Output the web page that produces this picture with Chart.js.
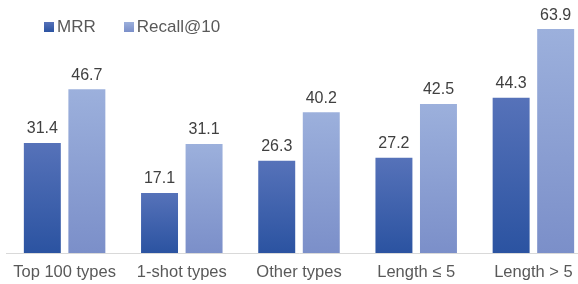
<!DOCTYPE html>
<html>
<head>
<meta charset="utf-8">
<script src="https://cdn.jsdelivr.net/npm/chart.js@4"></script>
<style>
  html, body { margin: 0; padding: 0; background: #fff; overflow: hidden; }
  #wrap { position: relative; width: 600px; height: 284px; }
  .legend { position: absolute; top: 17px; left: 44px; font: 17px "Liberation Sans", Arial, sans-serif; color: #595959; display: flex; }
  .legend span { display: flex; align-items: center; margin-right: 28px; }
  .legend i { display: inline-block; width: 10px; height: 10px; margin-right: 3px; }
</style>
</head>
<body>
<div id="wrap">
  <canvas id="chart" width="600" height="284"></canvas>
  <div class="legend">
    <span><i style="background:linear-gradient(#5672b9,#2b53a1)"></i>MRR</span>
    <span><i style="background:linear-gradient(#9cb0dc,#7b8fc9)"></i>Recall@10</span>
  </div>
</div>
<script>
const categories = ['Top 100 types', '1-shot types', 'Other types', 'Length \u2264 5', 'Length > 5'];
const mrr = [31.4, 17.1, 26.3, 27.2, 44.3];
const recall10 = [46.7, 31.1, 40.2, 42.5, 63.9];

const FONT = '"Liberation Sans", Arial, sans-serif';

// dégradé vertical propre à chaque barre
function barGradient(top, bottom) {
  return ctx => {
    const chart = ctx.chart;
    const y = chart.scales.y;
    if (!y || ctx.raw === undefined) return bottom;
    const y0 = y.getPixelForValue(ctx.raw);
    const y1 = y.getPixelForValue(0);
    if (!isFinite(y0) || !isFinite(y1) || y0 === y1) return bottom;
    const g = chart.ctx.createLinearGradient(0, y0, 0, y1);
    g.addColorStop(0, top);
    g.addColorStop(1, bottom);
    return g;
  };
}

const valueLabels = {
  id: 'valueLabels',
  afterDatasetsDraw(chart) {
    const c = chart.ctx;
    c.save();
    c.font = '16px ' + FONT;
    c.fillStyle = '#404040';
    c.textAlign = 'center';
    c.textBaseline = 'bottom';
    chart.data.datasets.forEach((ds, i) => {
      chart.getDatasetMeta(i).data.forEach((bar, j) => {
        c.fillText(ds.data[j].toFixed(1), bar.x, bar.y - 6);
      });
    });
    c.restore();
  }
};

new Chart(document.getElementById('chart'), {
  type: 'bar',
  data: {
    labels: categories,
    datasets: [
      { label: 'MRR', data: mrr, backgroundColor: barGradient('#5672b9', '#2b53a1') },
      { label: 'Recall@10', data: recall10, backgroundColor: barGradient('#9cb0dc', '#7b8fc9') }
    ]
  },
  options: {
    responsive: false,
    animation: false,
    categoryPercentage: 0.76,
    barPercentage: 0.83,
    layout: { padding: { left: 6, right: 8, top: 20, bottom: 0 } },
    plugins: { legend: { display: false }, tooltip: { enabled: false } },
    scales: {
      x: {
        grid: { display: false, drawTicks: false },
        border: { display: true, color: '#d9d9d9', width: 1 },
        ticks: { color: '#595959', font: { family: FONT, size: 16.5 }, padding: 10, maxRotation: 0 },
        afterFit: s => { s.height = 31; }
      },
      y: {
        display: false,
        min: 0,
        max: 66.5
      }
    }
  },
  plugins: [valueLabels]
});
</script>
</body>
</html>
